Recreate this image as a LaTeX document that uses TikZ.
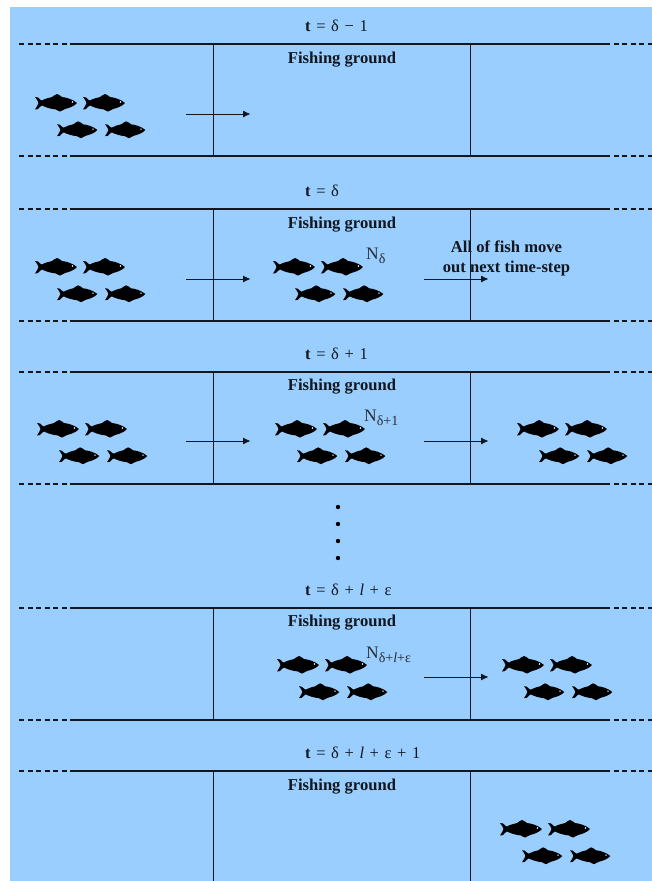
\documentclass[tikz,border=0pt]{standalone}
\usepackage{fontspec}
\setmainfont{Liberation Serif}
\usetikzlibrary{arrows.meta}
\definecolor{water}{RGB}{153,206,255}
\definecolor{ink}{RGB}{18,22,30}
\newcommand{\subsc}[1]{{\fontsize{14}{15}\selectfont\raisebox{-3.5pt}{#1}}}
\newcommand{\widewords}{\fontsize{16.5}{18}\selectfont\spaceskip=.34em\relax}
\tikzset{
  x=1pt,y=-1pt,
  wall/.style={draw=ink,line width=1.15pt},
  openwater/.style={draw=ink,line width=1.2pt,dash pattern=on 5pt off 3.5pt},
  move/.style={draw=ink,line width=.8pt,-{Latex[length=7.5pt,width=7pt]}},
  steplabel/.style={font=\widewords,text=ink,inner sep=0pt,anchor=west},
  ground/.style={font=\fontsize{16.6}{18}\selectfont\bfseries,text=ink,inner sep=0pt},
  count/.style={font=\fontsize{17.5}{19}\selectfont,text=ink!90,inner sep=0pt,anchor=west},
  onefish/.pic={
    \fill[black] (0,-6) -- (3,-5.5) .. controls (5,-3.5) and (6,-2.5) .. (7,-2.5)
      .. controls (10,-4.5) and (14,-5) .. (17,-6) .. controls (19,-7) and (20,-8.5) .. (22,-9)
      .. controls (24,-9) and (25,-7) .. (27,-6) .. controls (32,-5.5) and (38,-3.5) .. (42,0)
      .. controls (39,3.5) and (34,5) .. (30,6) .. controls (28,7) and (27,8) .. (25,8.5)
      .. controls (23,8) and (22,7) .. (21,6.5) .. controls (16,6) and (11,4.5) .. (7,2.5)
      .. controls (6,3) and (4,4.5) .. (3,6) -- (0,6.5) .. controls (2,3.5) and (3,1.5) .. (3.5,0)
      .. controls (3,-2) and (2,-3.5) .. (0,-6) -- cycle;
    \fill[white] (37.5,-1) circle (.8);
  },
  pics/school/.style={code={
    \pic at (0,0) {onefish};
    \pic at (48,0) {onefish};
    \pic[scale=.96] at (22,27) {onefish};
    \pic[scale=.96] at (70,27) {onefish};
  }}
}
\newcommand{\lanes}[3]{% top y, bottom y, bottom end of the solid part
  \coordinate (tl#1) at (71,#1); \coordinate (tr#1) at (610,#1);
  \coordinate (bl#1) at (75,#2); \coordinate (br#1) at (610,#2);
  \coordinate (dtl#1) at (19,#1); \coordinate (dtr#1) at (652,#1);
  \coordinate (dbl#1) at (19,#2); \coordinate (dbr#1) at (652,#2);
  \coordinate (wat#1) at (213.4,#1); \coordinate (wab#1) at (213.4,#3);
  \coordinate (wbt#1) at (470.4,#1); \coordinate (wbb#1) at (470.4,#3);
  \draw[wall] (tl#1) -- (tr#1);
  \draw[wall] (wat#1) -- (wab#1);
  \draw[wall] (wbt#1) -- (wbb#1);
  \draw[openwater] (dtl#1) -- (tl#1);
  \draw[openwater,dash phase=5pt] (tr#1) -- (dtr#1);
}
\newcommand{\lanefloor}[1]{%
  \draw[wall] (bl#1) -- (br#1);
  \draw[openwater] (dbl#1) -- (bl#1);
  \draw[openwater,dash phase=5pt] (br#1) -- (dbr#1);
}
\newcommand{\flow}[3]{% name, start x, y
  \coordinate (s#1) at (#2,#3);
  \coordinate (e#1) at (#2+64.5,#3);
  \draw[move] (s#1) -- (e#1);
}
\begin{document}
\begin{tikzpicture}
\useasboundingbox (0,0) rectangle (652,881);
\fill[water] (10,7) rectangle (652,881);

% step delta-1
\node[steplabel] (t1) at (305,26) {\textbf{t} = δ − 1};
\lanes{44}{156}{156}\lanefloor{44}
\node[ground] (g1) at (342,60) {Fishing ground};
\pic at (35,103) {school};
\flow{a}{186}{114}

% step delta
\node[steplabel] (t2) at (305,191) {\textbf{t} = δ};
\lanes{209}{321}{321}\lanefloor{209}
\node[ground] (g2) at (342,225) {Fishing ground};
\pic at (35,267) {school};
\pic at (273,267) {school};
\node[count] (n2) at (366,256) {N\subsc{δ}};
\flow{b}{186}{279}
\flow{c}{424}{279}
\node[ground,align=center] (note) at (506.5,258.5)
  {All of fish move\\[2.5pt]out next time-step};

% step delta+1
\node[steplabel] (t3) at (305,354) {\textbf{t} = δ + 1};
\lanes{372}{484}{484}\lanefloor{372}
\node[ground] (g3) at (342,387) {Fishing ground};
\pic at (37,429) {school};
\pic at (275,429) {school};
\pic at (517,429) {school};
\node[count] (n3) at (364,418) {N\subsc{δ+1}};
\flow{d}{186}{441}
\flow{e}{424}{441}

% elided steps
\foreach \dy in {507,524,541,558}
  \fill[black] (338,\dy) circle (2.2);

% step delta+l+epsilon
\node[steplabel] (t4) at (305,590) {\textbf{t} = δ + \textit{l} + ε};
\lanes{608}{720}{720}\lanefloor{608}
\node[ground] (g4) at (342,623) {Fishing ground};
\pic at (277,665) {school};
\pic at (502,665) {school};
\node[count] (n4) at (366,655) {N\subsc{δ+\textit{l}+ε}};
\flow{f}{424}{677}

% step delta+l+epsilon+1
\node[steplabel] (t5) at (305,753) {\textbf{t} = δ + \textit{l} + ε + 1};
\lanes{771}{881}{881}
\node[ground] (g5) at (342,787) {Fishing ground};
\pic at (500,829) {school};
\end{tikzpicture}
\end{document}
